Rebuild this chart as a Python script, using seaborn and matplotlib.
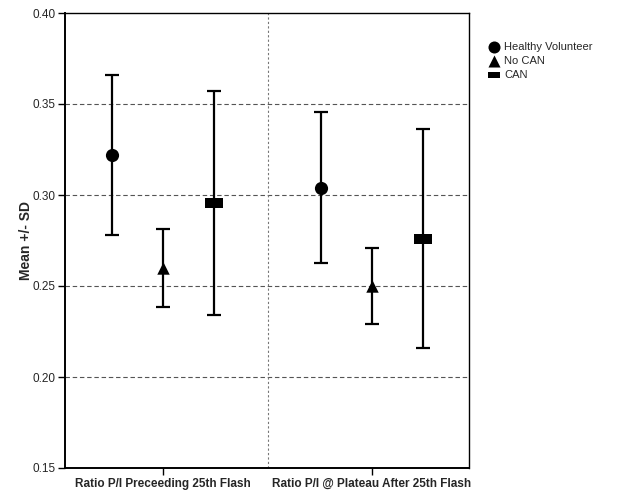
import matplotlib
matplotlib.use("Agg")
from matplotlib import pyplot as plt
import pandas as pd
import seaborn as sns
import numpy as np

# values
conditions = ["Ratio P/I Preceeding 25th Flash", "Ratio P/I @ Plateau After 25th Flash"]
groups = ["Healthy Volunteer", "No CAN", "CAN"]
means = {"Healthy Volunteer": [0.322, 0.304],
         "No CAN": [0.260, 0.250],
         "CAN": [0.2955, 0.276]}
sds = {"Healthy Volunteer": [0.044, 0.0415],
       "No CAN": [0.0214, 0.0207],
       "CAN": [0.0615, 0.060]}

offsets = {"Healthy Volunteer": -0.244, "No CAN": 0.0, "CAN": 0.244}
wide_box = [(-1, -0.55), (1, -0.55), (1, 0.55), (-1, 0.55), (-1, -0.55)]
markers = {"Healthy Volunteer": "o", "No CAN": "^", "CAN": wide_box}
sizes = {"Healthy Volunteer": 90, "No CAN": 80, "CAN": 150}

rows = []
for g in groups:
    for i, c in enumerate(conditions):
        rows.append({"group": g, "condition": c, "pos": i + offsets[g],
                     "mean": means[g][i], "sd": sds[g][i]})
df = pd.DataFrame(rows)

sns.set_style("white")
plt.rcParams['font.family'] = ['Liberation Sans', 'DejaVu Sans']

fig = plt.figure(figsize=(6.25, 5), dpi=100)
ax = fig.add_axes([65 / 625, 1 - 468 / 500, 404 / 625, 455 / 500])

for y in [0.20, 0.25, 0.30, 0.35]:
    ax.axhline(y, color="#555555", lw=0.8, ls=(0, (4, 2.5)), zorder=0)
ax.axvline(0.5, color="#777777", lw=0.8, ls=(0, (2, 2)), zorder=0)

ax.errorbar(df["pos"], df["mean"], yerr=df["sd"], fmt="none", ecolor="black",
            elinewidth=1.6, capsize=5, capthick=1.6, zorder=2)

for g in groups:
    sub = df[df["group"] == g]
    sns.scatterplot(data=sub, x="pos", y="mean", marker=markers[g], s=sizes[g],
                    color="black", edgecolor="black", linewidth=0, ax=ax,
                    label=g, zorder=3)

ax.set_xlim(-0.47, 1.465)
ax.set_ylim(0.15, 0.40)
ax.set_xticks([0, 1])
ax.set_xticklabels(conditions, fontsize=8.5, fontweight="bold")
ax.set_yticks([0.15, 0.20, 0.25, 0.30, 0.35, 0.40])
ax.set_yticklabels(["0.15", "0.20", "0.25", "0.30", "0.35", "0.40"], fontsize=8.5)
ax.tick_params(axis="both", direction="out", length=5, width=1, color="black",
               bottom=True, left=True, pad=2)
ax.set_xlabel("")
ax.set_ylabel("Mean +/- SD", fontsize=10, fontweight="bold")
ax.yaxis.set_label_coords(-0.079, 0.5)
for sp in ax.spines.values():
    sp.set_color("black")
    sp.set_linewidth(1)
ax.spines["bottom"].set_linewidth(1.4)
ax.spines["left"].set_linewidth(1.4)

leg = ax.legend(loc="upper left", bbox_to_anchor=(1.035, 0.946), frameon=False,
                fontsize=8, handletextpad=0.3, labelspacing=0.35,
                borderaxespad=0, handlelength=1.2)
for h in leg.legend_handles:
    h.set_sizes([75])

fig.savefig("out.png", dpi=100)
